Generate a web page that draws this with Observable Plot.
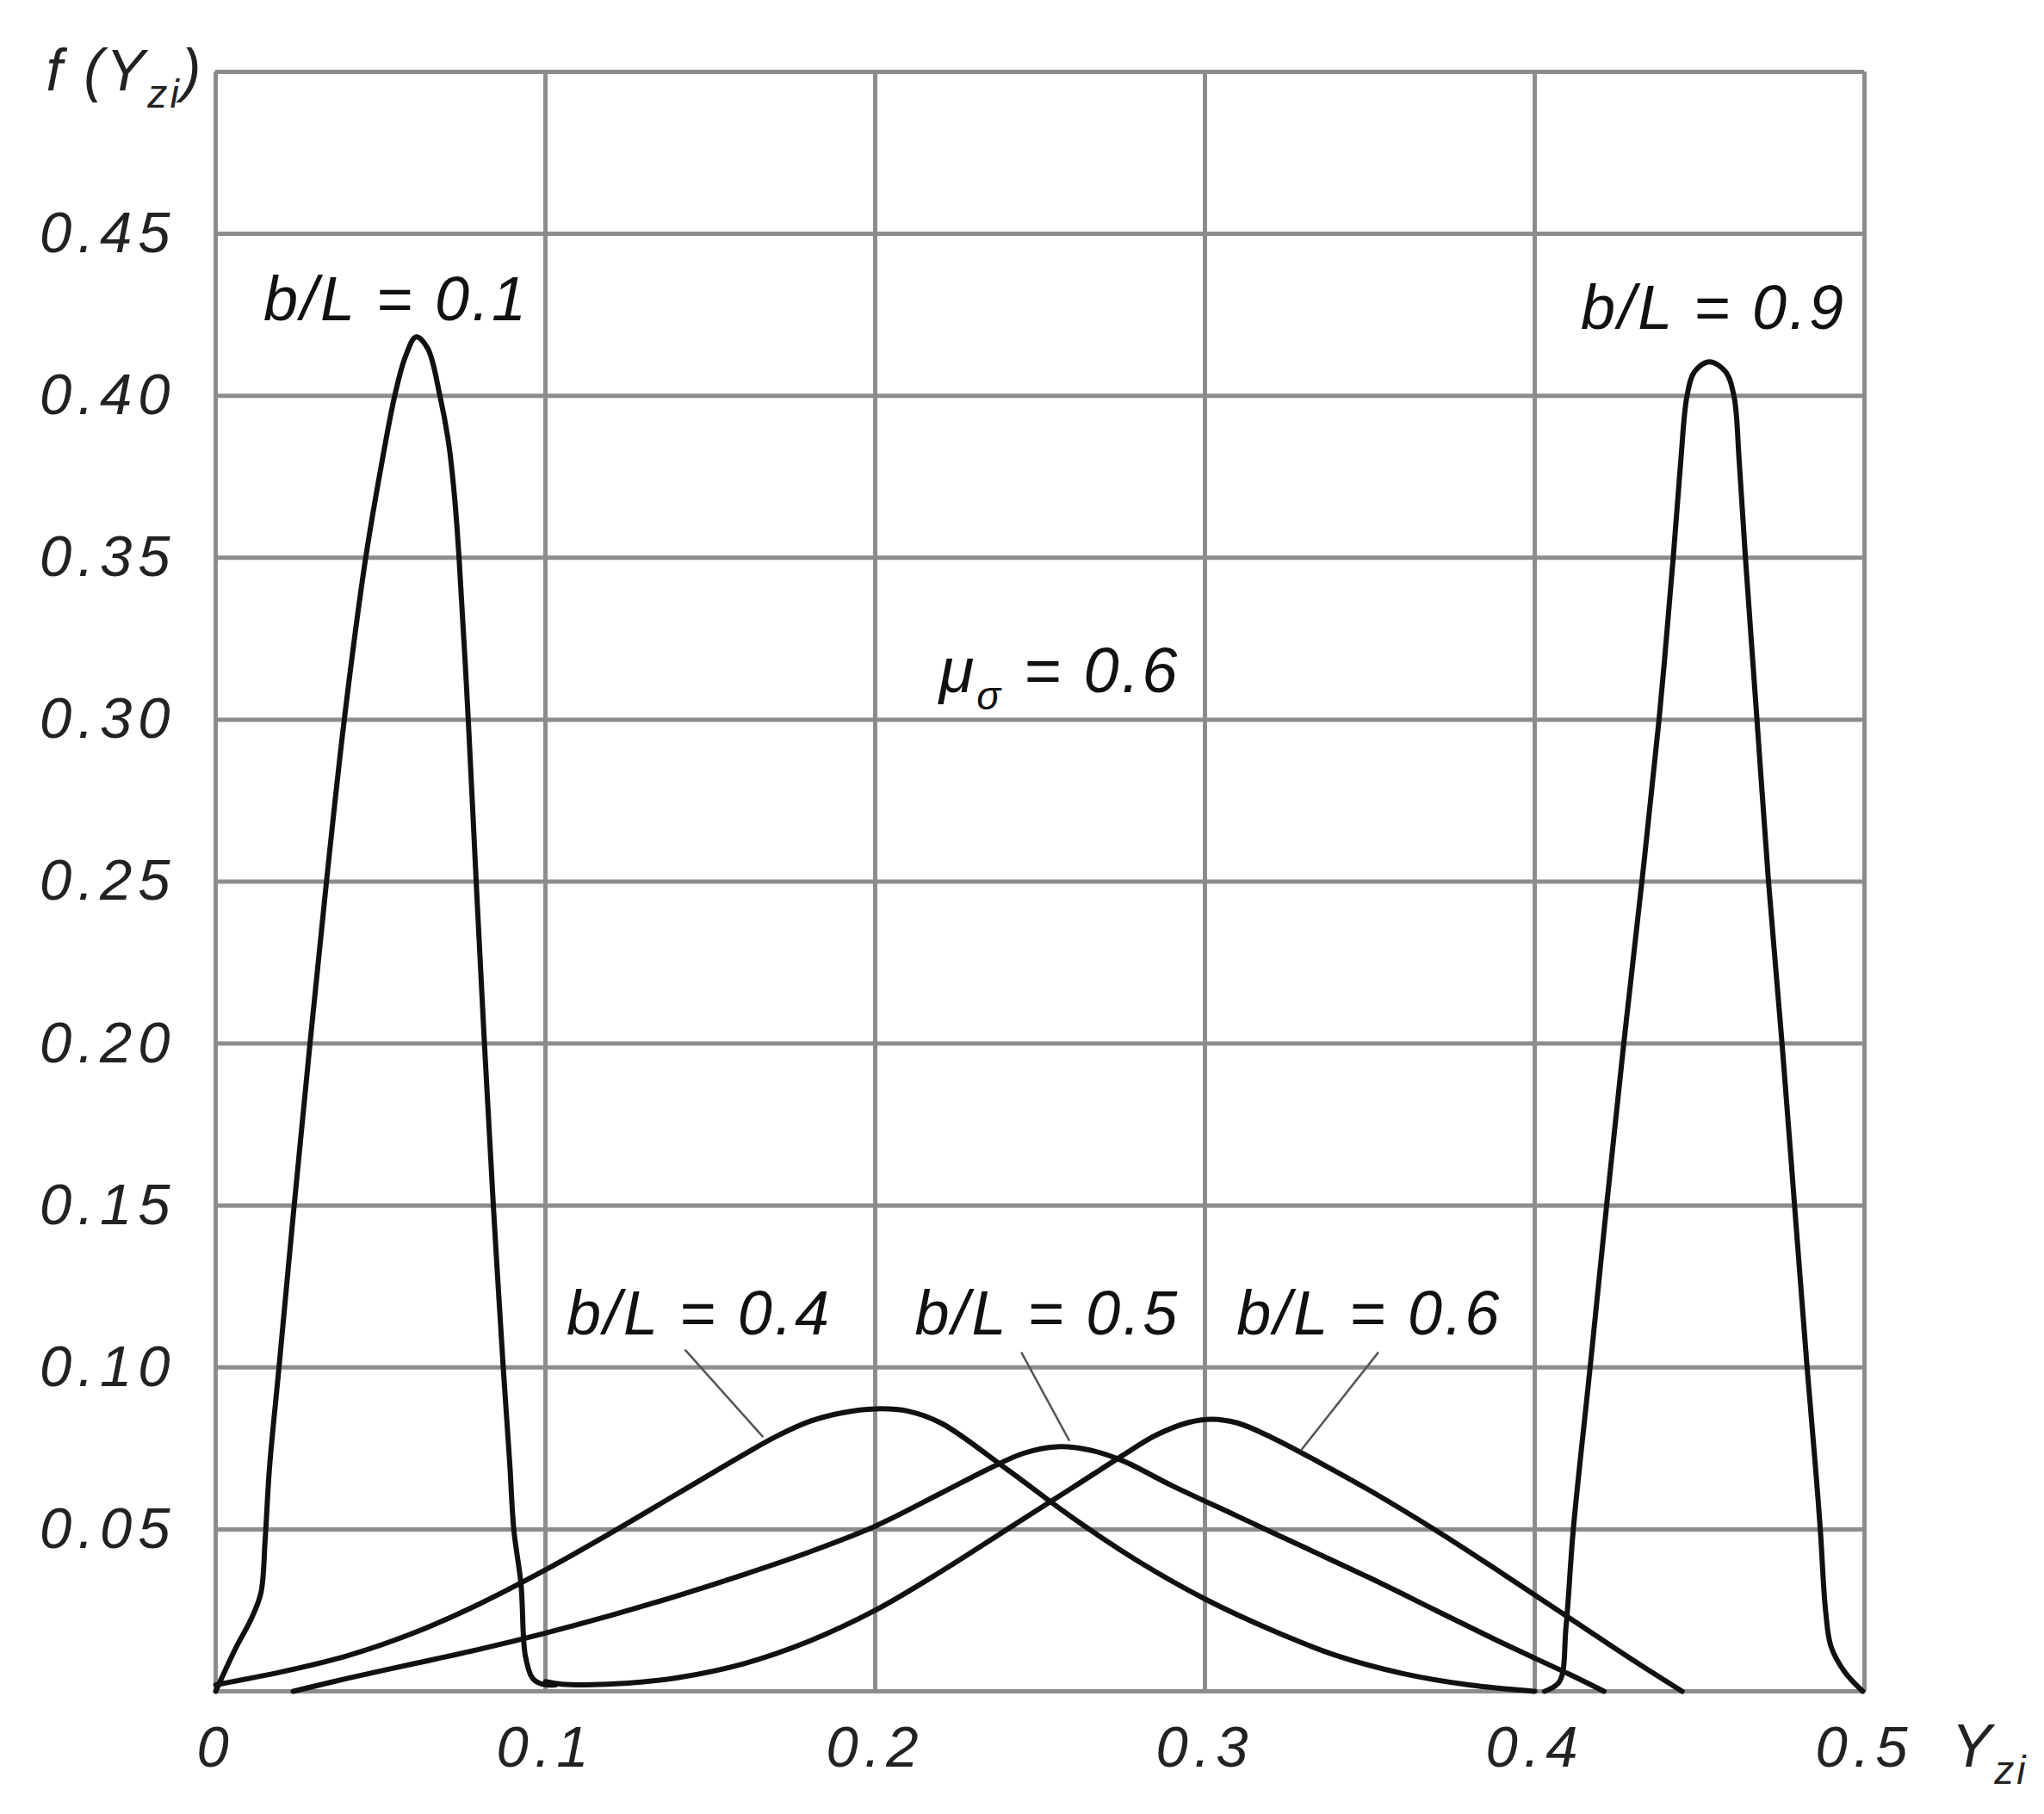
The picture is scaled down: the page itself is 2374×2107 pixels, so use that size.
<!DOCTYPE html>
<html>
<head>
<meta charset="utf-8">
<script src="https://cdn.jsdelivr.net/npm/d3@7"></script>
<script src="https://cdn.jsdelivr.net/npm/@observablehq/plot@0.6"></script>
<style>
  html, body { margin: 0; padding: 0; background: #fff; }
  #chart svg text { letter-spacing: 3px; }
  #chart svg g[aria-label$="tick label"] text { letter-spacing: 7px; }
</style>
</head>
<body>
<div id="chart"></div>
<script>
// ---- data ----
const xTicks = [0, 0.1, 0.2, 0.3, 0.4, 0.5];
const xTickLabels = ["0", "0.1", "0.2", "0.3", "0.4", "0.5"];
const yTicks = [0.05, 0.10, 0.15, 0.20, 0.25, 0.30, 0.35, 0.40, 0.45];
const yTickLabels = ["0.05", "0.10", "0.15", "0.20", "0.25", "0.30", "0.35", "0.40", "0.45"];
const gridXTicks = [0, 0.1, 0.2, 0.3, 0.4, 0.5];
const gridYTicks = [0, 0.05, 0.10, 0.15, 0.20, 0.25, 0.30, 0.35, 0.40, 0.45, 0.50];

const seriesNames = ["b/L = 0.1", "b/L = 0.4", "b/L = 0.5", "b/L = 0.6", "b/L = 0.9"];

const bl01X = [0, 0.0063, 0.0106, 0.0137, 0.0150, 0.0163, 0.0192, 0.0238, 0.0286, 0.0336, 0.0390, 0.0455, 0.0505, 0.0543, 0.0575, 0.0608, 0.0643, 0.0680, 0.0707, 0.0725, 0.0738, 0.0766, 0.0790, 0.0815, 0.0842, 0.0872, 0.0892, 0.0904, 0.0926, 0.0939, 0.0961, 0.0990, 0.1030];
const bl01Y = [0, 0.0138, 0.0220, 0.0303, 0.0468, 0.0688, 0.1000, 0.1500, 0.2000, 0.2500, 0.3000, 0.3500, 0.3800, 0.4000, 0.4120, 0.4182, 0.4146, 0.4000, 0.3850, 0.3680, 0.3500, 0.3000, 0.2500, 0.2000, 0.1500, 0.1000, 0.0700, 0.0500, 0.0330, 0.0110, 0.0040, 0.0022, 0.0020];

const bl04X = [0, 0.02, 0.04, 0.06, 0.08, 0.10, 0.12, 0.14, 0.16, 0.17, 0.18, 0.19, 0.20, 0.21, 0.22, 0.24, 0.26, 0.28, 0.30, 0.32, 0.34, 0.36, 0.38, 0.40];
const bl04Y = [0.002, 0.006, 0.011, 0.018, 0.027, 0.0375, 0.049, 0.061, 0.073, 0.0787, 0.0833, 0.0860, 0.0872, 0.0865, 0.0828, 0.0685, 0.0535, 0.0400, 0.0285, 0.0190, 0.0110, 0.0055, 0.0020, 0];

const bl05X = [0.0235, 0.04, 0.06, 0.08, 0.10, 0.12, 0.14, 0.16, 0.18, 0.20, 0.22, 0.235, 0.245, 0.255, 0.265, 0.275, 0.29, 0.31, 0.33, 0.35, 0.37, 0.39, 0.41, 0.421];
const bl05Y = [0, 0.004, 0.0085, 0.013, 0.018, 0.0235, 0.0295, 0.036, 0.043, 0.051, 0.0612, 0.0690, 0.0735, 0.0755, 0.0745, 0.0712, 0.0635, 0.0540, 0.0445, 0.0350, 0.0250, 0.0150, 0.0055, 0];

const bl06X = [0.100, 0.105, 0.112, 0.125, 0.14, 0.16, 0.18, 0.20, 0.22, 0.24, 0.26, 0.275, 0.285, 0.295, 0.302, 0.31, 0.32, 0.335, 0.35, 0.37, 0.39, 0.41, 0.43, 0.4447];
const bl06Y = [0.003, 0.0022, 0.0020, 0.0025, 0.0042, 0.0085, 0.0155, 0.0250, 0.0370, 0.0500, 0.0630, 0.0728, 0.0790, 0.0830, 0.0840, 0.0828, 0.0785, 0.0705, 0.0620, 0.0497, 0.0365, 0.0230, 0.0095, 0];

const bl09X = [0.4030, 0.4075, 0.4095, 0.4117, 0.4168, 0.4218, 0.4270, 0.4325, 0.4377, 0.4420, 0.4443, 0.4462, 0.4485, 0.4530, 0.4578, 0.4604, 0.4620, 0.4639, 0.4674, 0.4709, 0.4750, 0.4788, 0.4826, 0.4850, 0.4866, 0.4882, 0.4898, 0.4940, 0.4995];
const bl09Y = [0, 0.0030, 0.0200, 0.0500, 0.1000, 0.1500, 0.2000, 0.2500, 0.3000, 0.3500, 0.3800, 0.4000, 0.4075, 0.4105, 0.4075, 0.4000, 0.3800, 0.3500, 0.3000, 0.2500, 0.2000, 0.1500, 0.1000, 0.0710, 0.0500, 0.0250, 0.0140, 0.0060, 0];

const labelText = ["b/L = 0.1", "b/L = 0.9", "b/L = 0.4", "b/L = 0.5", "b/L = 0.6"];
const labelX = [0.0547, 0.4542, 0.1466, 0.2522, 0.3498];
const labelY = [0.4295, 0.4267, 0.1163, 0.1163, 0.1163];

const leaderX1 = [0.1423, 0.2443, 0.3526];
const leaderY1 = [0.1055, 0.1047, 0.1047];
const leaderX2 = [0.1660, 0.2589, 0.3292];
const leaderY2 = [0.0785, 0.0773, 0.0745];

const noteText = ["μ_{σ} = 0.6"];
const noteX = [0.2194];
const noteY = [0.3148];

const yAxisTitle = "f (Y_{zi})";
const xAxisTitle = "Y_{zi}";

// ---- build tables ----
const seriesX = [bl01X, bl04X, bl05X, bl06X, bl09X];
const seriesY = [bl01Y, bl04Y, bl05Y, bl06Y, bl09Y];
const rows = seriesNames.flatMap((s, k) => seriesX[k].map((x, i) => ({series: s, x, y: seriesY[k][i]})));
const labels = labelText.map((t, i) => ({text: t, x: labelX[i], y: labelY[i]}));
const leaders = leaderX1.map((x1, i) => ({x1, y1: leaderY1[i], x2: leaderX2[i], y2: leaderY2[i]}));
const notes = noteText.map((t, i) => ({text: t, x: noteX[i], y: noteY[i]}));

const FONT = "'Liberation Sans', Arial, sans-serif";
const gridColor = "#8c8c8c";

const chart = Plot.plot({
  width: 2374,
  height: 2107,
  marginLeft: 250,
  marginRight: 209,
  marginTop: 83,
  marginBottom: 143,
  x: {domain: [0, 0.5]},
  y: {domain: [0, 0.5]},
  style: {fontFamily: FONT, background: "#fff", color: "#222"},
  marks: [
    Plot.gridX({ticks: gridXTicks, stroke: gridColor, strokeOpacity: 1, strokeWidth: 5}),
    Plot.gridY({ticks: gridYTicks, stroke: gridColor, strokeOpacity: 1, strokeWidth: 5}),
    Plot.axisX({ticks: xTicks, tickSize: 0, tickPadding: 40, fontSize: 67, fontStyle: "italic",
      tickFormat: d => xTickLabels[xTicks.indexOf(d)], label: null}),
    Plot.axisY({ticks: yTicks, tickSize: 0, tickPadding: 46, fontSize: 67, fontStyle: "italic",
      tickFormat: d => yTickLabels[yTicks.indexOf(d)], label: null}),
    Plot.line(rows, {x: "x", y: "y", z: "series", stroke: "#111", strokeWidth: 6, curve: "catmull-rom"}),
    Plot.link(leaders, {x1: "x1", y1: "y1", x2: "x2", y2: "y2", stroke: "#555", strokeWidth: 2.5}),
    Plot.text(labels, {x: "x", y: "y", text: "text", fontSize: 72, fontStyle: "italic", fill: "#111"}),
    Plot.text(notes, {x: "x", y: "y", text: "text", textAnchor: "start", fontSize: 74, fontStyle: "italic", fill: "#111"}),
    Plot.text([yAxisTitle], {frameAnchor: "top-left", text: d => d, textAnchor: "start", lineAnchor: "middle", dx: -197, dy: 0, fontSize: 68, fontStyle: "italic", fill: "#222"}),
    Plot.text([xAxisTitle], {frameAnchor: "bottom-right", text: d => d, textAnchor: "start", lineAnchor: "middle", dx: 101, dy: 65, fontSize: 70, fontStyle: "italic", fill: "#222"})
  ]
});

// convert "_{...}" markup into real subscript tspans
chart.querySelectorAll("text").forEach(t => {
  const s = t.textContent;
  if (!s.includes("_{")) return;
  const fs = parseFloat(t.getAttribute("font-size") || getComputedStyle(t).fontSize) || 66;
  const shift = fs * 0.3;
  const parts = s.split(/(_\{[^}]*\})/).filter(p => p.length);
  t.textContent = "";
  let down = false;
  parts.forEach(p => {
    const ts = document.createElementNS("http://www.w3.org/2000/svg", "tspan");
    if (p.startsWith("_{")) {
      ts.textContent = p.slice(2, -1);
      ts.setAttribute("font-size", fs * 0.7);
      ts.setAttribute("dy", shift);
      down = true;
    } else {
      ts.textContent = p;
      if (down) { ts.setAttribute("dy", -shift); down = false; }
    }
    t.appendChild(ts);
  });
});

document.getElementById("chart").appendChild(chart);
</script>
</body>
</html>
